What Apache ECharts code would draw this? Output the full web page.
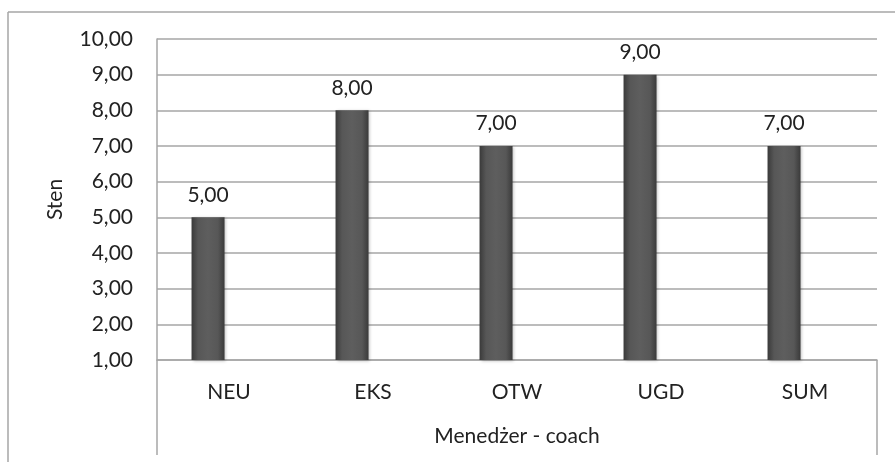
<!DOCTYPE html>
<html>
<head>
<meta charset="utf-8">
<script src="https://cdn.jsdelivr.net/npm/echarts@6/dist/echarts.min.js"></script>
<style>
html,body{margin:0;padding:0;background:#fff;}
#c{width:895px;height:462px;}
</style>
</head>
<body>
<div id="c"></div>
<script>
const categories = ['NEU', 'EKS', 'OTW', 'UGD', 'SUM'];
const values = [5, 8, 7, 9, 7];
const emptySeries = [null, null, null, null, null];
const yTicks = { min: 1, max: 10, interval: 1 };
const yName = 'Sten';
const xName = 'Menedżer - coach';

const FONT = 'Lato';
const FS = 21;
const fmt = v => v.toFixed(2).replace('.', ',');

const chart = echarts.init(document.getElementById('c'));
const GRID = { left: 157, top: 39, right: 18, bottom: 102 };

chart.setOption({
  animation: false,
  textStyle: { fontFamily: FONT },
  grid: GRID,
  xAxis: {
    type: 'category',
    data: categories,
    axisLine: { show: true, lineStyle: { color: '#a6a6a6', width: 1.5 } },
    axisTick: { show: false },
    axisLabel: { margin: 22, fontSize: FS, color: '#222', fontFamily: FONT },
    name: xName,
    nameLocation: 'middle',
    nameGap: 66,
    nameTextStyle: { fontSize: FS, color: '#222', fontFamily: FONT }
  },
  yAxis: {
    type: 'value',
    min: yTicks.min,
    max: yTicks.max,
    interval: yTicks.interval,
    axisLine: { show: true, lineStyle: { color: '#a6a6a6', width: 1.5 } },
    axisTick: { show: false },
    splitLine: { lineStyle: { color: '#a6a6a6', width: 1.5 } },
    axisLabel: { margin: 24, fontSize: FS, color: '#222', fontFamily: FONT, formatter: fmt },
    name: yName,
    nameLocation: 'middle',
    nameRotate: 90,
    nameGap: 91,
    nameTextStyle: { fontSize: FS, color: '#222', fontFamily: FONT }
  },
  series: [
    {
      type: 'bar',
      data: values,
      barWidth: 33,
      barGap: '27%',
      itemStyle: {
        color: {
          type: 'linear', x: 0, y: 0, x2: 1, y2: 0,
          colorStops: [
            { offset: 0, color: '#3a3a3a' },
            { offset: 0.2, color: '#575757' },
            { offset: 0.5, color: '#5e5e5e' },
            { offset: 0.8, color: '#575757' },
            { offset: 1, color: '#3a3a3a' }
          ]
        },
        shadowColor: 'rgba(0,0,0,0.25)',
        shadowBlur: 3,
        shadowOffsetX: 1,
        shadowOffsetY: 1
      },
      label: {
        show: true,
        position: 'top',
        distance: 12,
        fontSize: FS,
        color: '#222',
        fontFamily: FONT,
        formatter: p => fmt(p.value)
      }
    },
    {
      type: 'bar',
      data: emptySeries,
      barWidth: 33
    }
  ]
});

const width = 895 - GRID.left - GRID.right;
const bottomY = 462 - GRID.bottom;
chart.setOption({
  graphic: [
    { type: 'line', shape: { x1: 8, y1: 12, x2: 895, y2: 12 }, style: { stroke: '#a6a6a6', lineWidth: 1.5 } },
    { type: 'line', shape: { x1: 8, y1: 12, x2: 8, y2: 462 }, style: { stroke: '#a6a6a6', lineWidth: 1.5 } },
    { type: 'line', shape: { x1: GRID.left, y1: bottomY, x2: GRID.left, y2: 455 }, style: { stroke: '#a6a6a6', lineWidth: 1.5 } },
    { type: 'line', shape: { x1: GRID.left + width, y1: bottomY, x2: GRID.left + width, y2: 455 }, style: { stroke: '#a6a6a6', lineWidth: 1.5 } }
  ]
});
</script>
</body>
</html>
